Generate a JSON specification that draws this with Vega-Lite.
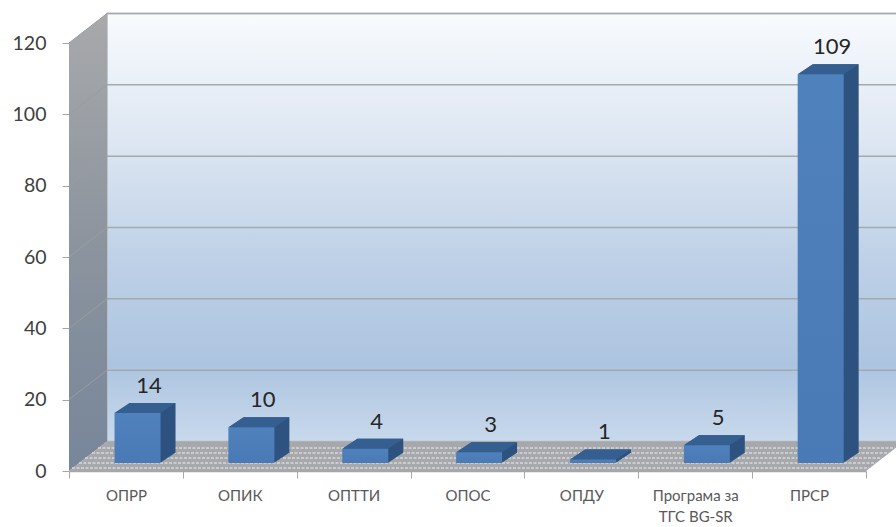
{
"$schema":"https://vega.github.io/schema/vega-lite/v6.json",
"width":827,"height":428,"autosize":"none",
"padding":{"left":69,"top":43,"right":0,"bottom":56},
"background":"white",
"datasets":{"bars":[
{"program":"ОПРР","value":14},{"program":"ОПИК","value":10},{"program":"ОПТТИ","value":4},{"program":"ОПОС","value":3},{"program":"ОПДУ","value":1},{"program":"Програма за ТГС BG-SR","value":5},{"program":"ПРСР","value":109}],
"wallgrid":[{"program":"ОПРР","tick":20},{"program":"ОПРР","tick":40},{"program":"ОПРР","tick":60},{"program":"ОПРР","tick":80},{"program":"ОПРР","tick":100},{"program":"ОПРР","tick":120}],
"base":[{"program":"ОПРР","tick":0}]},
"data":{"name":"bars"},
"config":{"view":{"stroke":null},"font":"Lato"},
"encoding":{
"x":{"field":"program","type":"nominal","sort":null,"title":null,"scale":{"type":"band","paddingInner":0,"paddingOuter":0,"range":[0,797],"domain":["ОПРР","ОПИК","ОПТТИ","ОПОС","ОПДУ","Програма за ТГС BG-SR","ПРСР"]},"axis":{"title":null,"labelAngle":0,"labelOverlap":false,"labelLimit":0,"tickBand":"extent","tickSize":7,"tickColor":"#a6a6a6","domainColor":"#a6a6a6","domainWidth":1.5,"labelFontSize":15,"labelColor":"#595959","labelPadding":10,"labelLineHeight":21,"labelFont":"Lato","labelExpr":"datum.label == 'Програма за ТГС BG-SR' ? ['Програма за','ТГС BG-SR'] : datum.label"}},
"y":{"field":"value","type":"quantitative","title":null,"scale":{"domain":[0,120],"nice":false},"axis":{"title":null,"values":[0,20,40,60,80,100,120],"grid":false,"domain":false,"tickSize":7,"tickColor":"#a6a6a6","labelFontSize":19.5,"labelPadding":16,"labelColor":"#404040","labelFont":"Lato"}}
},
"layer":[
{"data":{"name":"base"},"mark":{"type":"point","filled":true,"opacity":1,"size":4,"xOffset":-56.93,"stroke":"#b5b8ba","strokeWidth":1.5,"shape":"M38,-29.5 L38,-457.5 L832,-457.5 L832,-29.5 Z","fill":{"gradient":"linear","x1":0,"y1":0,"x2":0,"y2":1,"stops":[{"offset":0,"color":"#f8fbfe"},{"offset":0.3,"color":"#dde6f2"},{"offset":0.6,"color":"#bccfe6"},{"offset":0.82,"color":"#adc4e0"},{"offset":1,"color":"#c8d9ec"}]}},
 "encoding":{"y":{"field":"tick","type":"quantitative"}}},
{"data":{"name":"wallgrid"},"mark":{"type":"point","filled":false,"opacity":1,"size":4,"xOffset":-56.93,"stroke":"#a3aaae","strokeWidth":1.5,"shape":"M38,-29.5 L832,-29.5"},
 "encoding":{"y":{"field":"tick","type":"quantitative"}}},
{"data":{"name":"base"},"mark":{"type":"point","filled":true,"opacity":1,"size":4,"xOffset":-56.93,"shape":"M0,0 L0,-428 L38,-457.5 L38,-29.5 Z","fill":{"gradient":"linear","x1":0,"y1":0,"x2":0,"y2":1,"stops":[{"offset":0,"color":"#a8a9ab"},{"offset":0.5,"color":"#8c949e"},{"offset":1,"color":"#77869a"}]}},
 "encoding":{"y":{"field":"tick","type":"quantitative"}}},
{"data":{"name":"wallgrid"},"mark":{"type":"point","filled":false,"opacity":1,"size":4,"xOffset":-56.93,"stroke":"#9a9da0","strokeWidth":1,"shape":"M0,0 L38,-29.5"},
 "encoding":{"y":{"field":"tick","type":"quantitative"}}},
{"data":{"name":"base"},"mark":{"type":"point","filled":true,"opacity":1,"size":4,"xOffset":-56.93,"shape":"M0,0 L38,-29.5 L835,-29.5 L797,0 Z","fill":"#a6a8ab"},
 "encoding":{"y":{"field":"tick","type":"quantitative"}}},
{"data":{"name":"base"},"mark":{"type":"point","filled":false,"opacity":1,"size":4,"xOffset":-56.93,"strokeWidth":1.5,"strokeDash":[3,1.5],"stroke":"#d6d8da","shape":"M3,-3 L800,-3 M10,-8 L807,-8 M16,-13 L813,-13 M23,-18 L820,-18 M29,-23 L826,-23"},
 "encoding":{"y":{"field":"tick","type":"quantitative"}}},
{"mark":{"type":"bar","width":46,"fill":"#2f5380","xOffset":26.6,"yOffset":-18,"y2Offset":-18},"encoding":{"y2":{"datum":0}}},
{"mark":{"type":"bar","width":46,"fill":"#2f5380","xOffset":25.6,"yOffset":-17.33,"y2Offset":-17.33},"encoding":{"y2":{"datum":0}}},
{"mark":{"type":"bar","width":46,"fill":"#2f5380","xOffset":24.6,"yOffset":-16.67,"y2Offset":-16.67},"encoding":{"y2":{"datum":0}}},
{"mark":{"type":"bar","width":46,"fill":"#2f5380","xOffset":23.6,"yOffset":-16,"y2Offset":-16},"encoding":{"y2":{"datum":0}}},
{"mark":{"type":"bar","width":46,"fill":"#2f5380","xOffset":22.6,"yOffset":-15.33,"y2Offset":-15.33},"encoding":{"y2":{"datum":0}}},
{"mark":{"type":"bar","width":46,"fill":"#2f5380","xOffset":21.6,"yOffset":-14.67,"y2Offset":-14.67},"encoding":{"y2":{"datum":0}}},
{"mark":{"type":"bar","width":46,"fill":"#2f5380","xOffset":20.6,"yOffset":-14,"y2Offset":-14},"encoding":{"y2":{"datum":0}}},
{"mark":{"type":"bar","width":46,"fill":"#2f5380","xOffset":19.6,"yOffset":-13.33,"y2Offset":-13.33},"encoding":{"y2":{"datum":0}}},
{"mark":{"type":"bar","width":46,"fill":"#2f5380","xOffset":18.6,"yOffset":-12.67,"y2Offset":-12.67},"encoding":{"y2":{"datum":0}}},
{"mark":{"type":"bar","width":46,"fill":"#2f5380","xOffset":17.6,"yOffset":-12,"y2Offset":-12},"encoding":{"y2":{"datum":0}}},
{"mark":{"type":"bar","width":46,"fill":"#2f5380","xOffset":16.6,"yOffset":-11.33,"y2Offset":-11.33},"encoding":{"y2":{"datum":0}}},
{"mark":{"type":"bar","width":46,"fill":"#2f5380","xOffset":15.6,"yOffset":-10.67,"y2Offset":-10.67},"encoding":{"y2":{"datum":0}}},
{"mark":{"type":"bar","width":46,"fill":"#2f5380","xOffset":14.6,"yOffset":-10,"y2Offset":-10},"encoding":{"y2":{"datum":0}}},
{"mark":{"type":"bar","width":46,"fill":"#2f5380","xOffset":13.6,"yOffset":-9.33,"y2Offset":-9.33},"encoding":{"y2":{"datum":0}}},
{"mark":{"type":"bar","width":46,"fill":"#2f5380","xOffset":12.6,"yOffset":-8.67,"y2Offset":-8.67},"encoding":{"y2":{"datum":0}}},
{"mark":{"type":"point","filled":true,"opacity":1,"size":4,"fill":"#365f91","xOffset":11.6,"yOffset":-8,"shape":"M-23,0 L-8,-10 L38,-10 L23,0 Z"}},
{"mark":{"type":"bar","width":46,"xOffset":11.6,"yOffset":-8,"y2Offset":-8,"fill":{"gradient":"linear","x1":0,"y1":0,"x2":0,"y2":1,"stops":[{"offset":0,"color":"#4f81bd"},{"offset":1,"color":"#4a7ab5"}]}},
 "encoding":{"y2":{"datum":0}}},
{"mark":{"type":"text","font":"Lato","fontSize":22,"color":"#262626","baseline":"middle","xOffset":23,"yOffset":-35},"encoding":{"text":{"field":"value","type":"quantitative"}}}
]}
